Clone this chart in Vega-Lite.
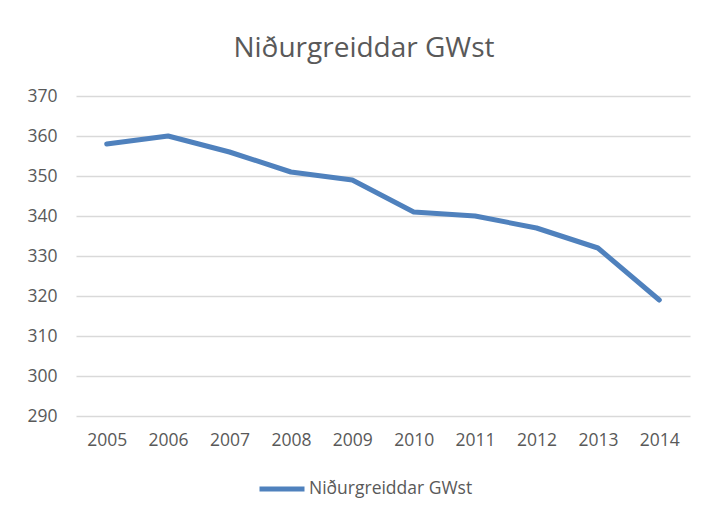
{
  "$schema": "https://vega.github.io/schema/vega-lite/v6.json",
  "width": 614,
  "height": 320,
  "autosize": {"type": "none"},
  "padding": {"left": 76, "top": 96, "right": 20, "bottom": 98},
  "background": "white",
  "title": {
    "text": "Niðurgreiddar GWst",
    "font": "Open Sans",
    "fontSize": 28,
    "fontWeight": "normal",
    "color": "#595959",
    "anchor": "middle",
    "dx": -19,
    "offset": 24
  },
  "data": {
    "values": [
      {"year": "2005", "value": 358, "series": "Niðurgreiddar GWst"},
      {"year": "2006", "value": 360, "series": "Niðurgreiddar GWst"},
      {"year": "2007", "value": 356, "series": "Niðurgreiddar GWst"},
      {"year": "2008", "value": 351, "series": "Niðurgreiddar GWst"},
      {"year": "2009", "value": 349, "series": "Niðurgreiddar GWst"},
      {"year": "2010", "value": 341, "series": "Niðurgreiddar GWst"},
      {"year": "2011", "value": 340, "series": "Niðurgreiddar GWst"},
      {"year": "2012", "value": 337, "series": "Niðurgreiddar GWst"},
      {"year": "2013", "value": 332, "series": "Niðurgreiddar GWst"},
      {"year": "2014", "value": 319, "series": "Niðurgreiddar GWst"}
    ]
  },
  "mark": {"type": "line", "strokeWidth": 5, "strokeCap": "round", "strokeJoin": "round"},
  "encoding": {
    "x": {
      "field": "year",
      "type": "ordinal",
      "scale": {"type": "point", "padding": 0.5},
      "axis": {
        "title": null,
        "labelAngle": 0,
        "domain": false,
        "ticks": false,
        "grid": false,
        "labelFont": "Open Sans",
        "labelFontSize": 17.5,
        "labelColor": "#595959",
        "labelPadding": 15
      }
    },
    "y": {
      "field": "value",
      "type": "quantitative",
      "scale": {"domain": [290, 370], "nice": false, "zero": false},
      "axis": {
        "title": null,
        "values": [290, 300, 310, 320, 330, 340, 350, 360, 370],
        "domain": false,
        "ticks": false,
        "grid": true,
        "gridColor": "#d9d9d9",
        "gridWidth": 1.5,
        "labelFont": "Open Sans",
        "labelFontSize": 17.5,
        "labelColor": "#595959",
        "labelPadding": 19
      }
    },
    "color": {
      "field": "series",
      "type": "nominal",
      "scale": {"range": ["#4F81BD"]},
      "legend": {
        "title": null,
        "orient": "none",
        "legendX": 181,
        "legendY": 368,
        "direction": "horizontal",
        "symbolType": "stroke",
        "symbolSize": 2025,
        "symbolStrokeWidth": 5,
        "labelFont": "Open Sans",
        "labelFontSize": 17.5,
        "labelColor": "#595959",
        "labelOffset": 2,
        "labelLimit": 400
      }
    }
  },
  "config": {
    "view": {"stroke": null}
  }
}
